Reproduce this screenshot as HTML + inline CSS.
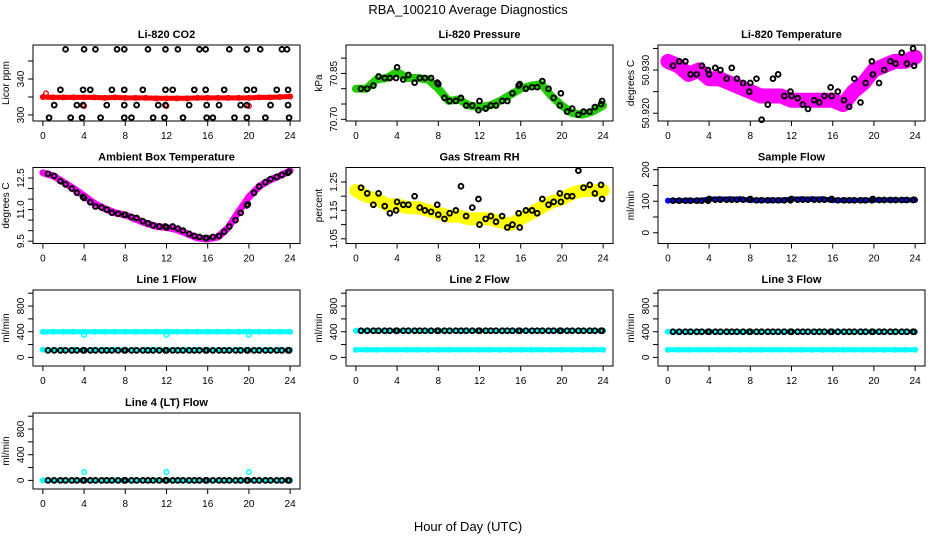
<!DOCTYPE html>
<html><head><meta charset="utf-8">
<style>
html,body{margin:0;padding:0;background:#fff;}
svg{display:block;font-family:"Liberation Sans",Arial,sans-serif;}
</style></head>
<body>
<svg id="chart" width="936" height="540" viewBox="0 0 936 540">
<rect x="0" y="0" width="936" height="540" fill="#fff"/>
<text x="468" y="14" text-anchor="middle" font-size="13">RBA_100210  Average Diagnostics</text>
<text x="468" y="531" text-anchor="middle" font-size="13">Hour of Day (UTC)</text>
</svg>
<script>
// shared hour positions
const hourly = [0,1,2,3,4,5,6,7,8,9,10,11,12,13,14,15,16,17,18,19,20,21,22,23,24];
const blackHours = [0.5,1.1,1.7,2.2,2.8,3.3,3.9,4.0,4.6,5.1,5.7,6.2,6.7,7.3,7.9,8.0,8.6,9.1,9.7,10.2,10.7,11.3,11.9,12.0,12.6,13.1,13.6,14.2,14.7,15.2,15.8,15.9,16.5,17.1,17.6,18.1,18.7,19.2,19.8,19.9,20.5,21.0,21.6,22.1,22.7,23.2,23.8,23.9];
const xTicks = [0,4,8,12,16,20,24];

// CO2
const co2Red = [320,319.5,319.5,319.5,319.5,319.5,319,319.5,319,319,319,318.5,318.5,318.5,318.5,319,319,319,319,319,319,319.5,319.5,320,320.5];
const co2RedOutX = [0.3,4,12,20];
const co2RedOutY = [324,310,310,310];
const co2BlackX = [2.2,4,5.1,7.2,7.9,10.2,11.9,13.1,15.2,15.8,18.1,19.8,21.1,23.2,23.7,
 1.7,3.9,4.6,6.7,7.9,9.7,11.9,12.6,14.7,15.8,17.6,19.8,20.5,22.7,23.8,
 1.1,3.3,3.9,6.2,7.9,9.1,11.2,11.9,14.2,15.9,17.1,19.2,19.8,22.1,23.8,
 0.6,2.7,3.8,5.6,7.9,8.6,10.7,11.8,13.6,15.9,16.5,18.6,19.8,21.6,23.9];
const co2BlackY = [373,373,373,373,373,373,373,373,373,373,373,373,373,373,373,
 328,328,328,328,328,328,328,328,328,328,328,328,328,328,328,
 311,311,311,311,311,311,311,311,311,311,311,311,311,311,311,
 297,297,297,297,297,297,297,297,297,297,297,297,297,297,297];

// Pressure
const presGreen = [70.80,70.80,70.83,70.835,70.855,70.835,70.835,70.83,70.80,70.76,70.765,70.745,70.74,70.745,70.76,70.78,70.80,70.81,70.815,70.775,70.745,70.72,70.715,70.725,70.745];
const presBlack = [70.80,70.80,70.81,70.84,70.835,70.835,70.835,70.87,70.83,70.845,70.82,70.835,70.835,70.835,70.82,70.815,70.77,70.76,70.76,70.77,70.745,70.745,70.73,70.76,70.735,70.745,70.745,70.76,70.76,70.785,70.81,70.815,70.80,70.805,70.805,70.825,70.80,70.77,70.745,70.785,70.725,70.735,70.715,70.725,70.725,70.74,70.75,70.76];

// Li-820 temperature
const tempMag = [50.932,50.931,50.929,50.930,50.928,50.928,50.927,50.926,50.925,50.924,50.924,50.924,50.923,50.923,50.923,50.923,50.923,50.922,50.925,50.927,50.930,50.931,50.932,50.932,50.933];
const tempBlack = [50.931,50.932,50.932,50.929,50.929,50.931,50.930,50.929,50.9305,50.930,50.928,50.9305,50.928,50.927,50.925,50.927,50.928,50.9185,50.922,50.928,50.929,50.924,50.925,50.924,50.9235,50.922,50.921,50.923,50.9225,50.924,50.926,50.924,50.925,50.923,50.9215,50.928,50.9225,50.927,50.932,50.929,50.927,50.930,50.932,50.9315,50.934,50.9315,50.935,50.931];

// Ambient box temperature
const ambMag = [12.75,12.6,12.3,12.0,11.65,11.3,11.05,10.85,10.75,10.55,10.35,10.2,10.15,10.05,9.85,9.65,9.6,9.7,10.15,10.9,11.6,12.1,12.4,12.6,12.85];
const ambBlack = [12.7,12.6,12.35,12.2,12.0,11.8,11.6,11.55,11.35,11.15,11.1,11.0,10.85,10.8,10.75,10.75,10.65,10.6,10.45,10.35,10.25,10.2,10.2,10.15,10.2,10.1,10.0,9.85,9.75,9.7,9.65,9.65,9.7,9.75,9.95,10.2,10.5,10.85,11.2,11.25,11.8,12.1,12.3,12.45,12.55,12.65,12.75,12.8];

// Gas stream RH
const rhYellow = [1.22,1.20,1.19,1.17,1.17,1.16,1.16,1.15,1.14,1.13,1.13,1.12,1.12,1.12,1.11,1.10,1.12,1.14,1.16,1.18,1.19,1.21,1.22,1.22,1.22];
const rhBlack = [1.23,1.21,1.17,1.21,1.165,1.14,1.15,1.18,1.17,1.17,1.20,1.16,1.15,1.145,1.17,1.135,1.12,1.14,1.15,1.235,1.13,1.16,1.19,1.10,1.12,1.13,1.11,1.13,1.09,1.10,1.14,1.09,1.15,1.15,1.14,1.19,1.17,1.18,1.21,1.18,1.20,1.20,1.29,1.23,1.24,1.21,1.24,1.19];

// Sample flow
const sfBlue = [102,102,102,102,107,107,107,107,103,103,103,103,107,107,107,107,103,103,103,103,104,104,104,104,104];
const sfBlack = [102,102,102,102,102,102,102,107,105,105,105,105,105,105,105,107,103,103,103,103,103,103,103,107,105,105,105,105,105,105,105,107,103,103,103,103,103,103,103,107,104,104,104,104,104,104,104,105];

// Line flows
const l1CyanHi = [400,400,400,400,400,400,400,400,400,400,400,400,400,400,400,400,400,400,400,400,400,400,400,400,400];
const l1CyanLo = [120,120,120,120,120,120,120,120,120,120,120,120,120,120,120,120,120,120,120,120,120,120,120,120,120];
const l1OutX = [4,12,20];
const l1OutY = [350,350,350];
const l1Black = [110,110,110,110,110,110,110,110,110,110,110,110,110,110,110,110,110,110,110,110,110,110,110,110,110,110,110,110,110,110,110,110,110,110,110,110,110,110,110,110,110,110,110,110,110,110,110,110];

const l2CyanHi = [415,415,415,415,415,415,415,415,415,415,415,415,415,415,415,415,415,415,415,415,415,415,415,415,415];
const l2CyanLo = [120,120,120,120,120,120,120,120,120,120,120,120,120,120,120,120,120,120,120,120,120,120,120,120,120];
const l2Black = [415,415,415,415,415,415,415,415,415,415,415,415,415,415,415,415,415,415,415,415,415,415,415,415,415,415,415,415,415,415,415,415,415,415,415,415,415,415,415,415,415,415,415,415,415,415,415,415];

const l3CyanHi = [400,400,400,400,400,400,400,400,400,400,400,400,400,400,400,400,400,400,400,400,400,400,400,400,400];
const l3CyanLo = [120,120,120,120,120,120,120,120,120,120,120,120,120,120,120,120,120,120,120,120,120,120,120,120,120];
const l3Black = [400,400,400,400,400,400,400,400,400,400,400,400,400,400,400,400,400,400,400,400,400,400,400,400,400,400,400,400,400,400,400,400,400,400,400,400,400,400,400,400,400,400,400,400,400,400,400,400];

const l4Cyan = [0,0,0,0,0,0,0,0,0,0,0,0,0,0,0,0,0,0,0,0,0,0,0,0,0];
const l4OutX = [4,12,20];
const l4OutY = [130,130,130];
const l4Black = [0,0,0,0,0,0,0,0,0,0,0,0,0,0,0,0,0,0,0,0,0,0,0,0,0,0,0,0,0,0,0,0,0,0,0,0,0,0,0,0,0,0,0,0,0,0,0,0];

const NS = "http://www.w3.org/2000/svg";
const svg = document.getElementById('chart');
function mk(tag, attrs, parent){
  const e = document.createElementNS(NS, tag);
  for (const k in attrs) e.setAttribute(k, attrs[k]);
  (parent||svg).appendChild(e);
  return e;
}
const W = 267, H = 76;
const colsX = [33, 346, 658];
const rowsY = [45, 167.5, 290, 413];

function panel(cfg){
  const left = colsX[cfg.col], top = rowsY[cfg.row];
  const g = mk('g', {});
  
  
  const xs = h => left + (h + 0.96) / 25.92 * W;
  const ys = v => top + H - (v - cfg.ymin) / (cfg.ymax - cfg.ymin) * H;
  const t = mk('text', {x: left + W/2, y: top - 7, 'text-anchor':'middle', 'font-size':'11', 'font-weight':'bold'}, g);
  t.textContent = cfg.title;
  
  
  const sg = mk('g', {}, g);
  
  
  (cfg.bands||[]).forEach(b => {
    const pts = b.x.map((h,i) => xs(h).toFixed(1) + ',' + ys(b.y[i]).toFixed(1)).join(' ');
    const pl = mk('polyline', {points: pts, fill:'none', stroke: b.color, 'stroke-width': b.w, 'stroke-linejoin':'round', 'stroke-linecap':'round'}, sg);
    
    
    b.x.forEach((h,i) => {
      const c = mk('circle', {cx: xs(h), cy: ys(b.y[i]), r: 2.3, fill:'none', stroke: b.color, 'stroke-width': 1.4}, sg);
      
      
    });
  });
  (cfg.points||[]).forEach(p => {
    p.x.forEach((h,i) => {
      const c = mk('circle', {cx: xs(h), cy: ys(p.y[i]), r: 2.4, fill:'none', stroke: p.color, 'stroke-width': 1.9}, sg);
      
      
    });
  });
  const box = mk('rect', {x: left, y: top, width: W, height: H, fill:'none', stroke:'#000', 'stroke-width':1}, g);
  
  
  const xa = mk('g', {}, g);
  
  
  mk('line', {x1: xs(0), x2: xs(24), y1: top+H, y2: top+H, stroke:'#000'}, xa);
  xTicks.forEach(v => {
    mk('line', {x1: xs(v), x2: xs(v), y1: top+H, y2: top+H+5, stroke:'#000'}, xa);
    const tl = mk('text', {x: xs(v), y: top+H+18, 'text-anchor':'middle', 'font-size':'10'}, xa);
    tl.textContent = v;
    
    
  });
  const ya = mk('g', {}, g);
  
  
  mk('line', {x1: left, x2: left, y1: ys(cfg.ticks[0]), y2: ys(cfg.ticks[cfg.ticks.length-1]), stroke:'#000'}, ya);
  cfg.ticks.forEach(v => {
    mk('line', {x1: left-5, x2: left, y1: ys(v), y2: ys(v), stroke:'#000'}, ya);
  });
  cfg.labels.forEach(v => {
    const yy = ys(v), xx = left - 9;
    const tl = mk('text', {x: xx, y: yy, 'text-anchor':'middle', 'font-size':'10', transform: 'rotate(-90 ' + xx + ' ' + yy + ')'}, ya);
    tl.textContent = cfg.fmt ? cfg.fmt(v) : v;
    
    
  });
  const yx = left - 24, yy = top + H/2;
  const yl = mk('text', {x: yx, y: yy, 'text-anchor':'middle', 'font-size':'10', transform: 'rotate(-90 ' + yx + ' ' + yy + ')'}, g);
  yl.textContent = cfg.ylab;
  
  
}

panel({name:'co2-panel', col:0, row:0, title:'Li-820 CO2', ylab:'Licor ppm', ymin:293.3, ymax:377.8,
  ticks:[300,320,340,360], labels:[300,340],
  bands:[{label:'co2-licor', color:'#ff0000', w:5, x:hourly, y:co2Red},
         {label:'co2-outlier', color:'#ff0000', w:0, x:co2RedOutX, y:co2RedOutY}],
  points:[{label:'co2-average', color:'#000', x:co2BlackX, y:co2BlackY}]});
panel({name:'pressure-panel', col:1, row:0, title:'Li-820 Pressure', ylab:'kPa', ymin:70.6944, ymax:70.943,
  ticks:[70.70,70.75,70.80,70.85,70.90], labels:[70.70,70.85], fmt: v => v.toFixed(2),
  bands:[{label:'pressure', color:'#22cc00', w:8, x:hourly, y:presGreen}],
  points:[{label:'pressure-average', color:'#000', x:blackHours, y:presBlack}]});
panel({name:'li820-temperature-panel', col:2, row:0, title:'Li-820 Temperature', ylab:'degrees C', ymin:50.9182, ymax:50.9358,
  ticks:[50.920,50.925,50.930,50.935], labels:[50.920,50.930], fmt: v => v.toFixed(3),
  bands:[{label:'li820-temp', color:'#ff00ff', w:15, x:hourly, y:tempMag}],
  points:[{label:'li820-temp-average', color:'#000', x:blackHours, y:tempBlack}]});
panel({name:'ambient-temperature-panel', col:0, row:1, title:'Ambient Box Temperature', ylab:'degrees C', ymin:9.39, ymax:13.0,
  ticks:[9.5,10,10.5,11,11.5,12,12.5], labels:[9.5,11.0,12.5], fmt: v => v.toFixed(1),
  bands:[{label:'ambient-temp', color:'#ff00ff', w:7, x:hourly, y:ambMag}],
  points:[{label:'ambient-temp-average', color:'#000', x:blackHours, y:ambBlack}]});
panel({name:'rh-panel', col:1, row:1, title:'Gas Stream RH', ylab:'percent', ymin:1.0335, ymax:1.301,
  ticks:[1.05,1.10,1.15,1.20,1.25], labels:[1.05,1.15,1.25], fmt: v => v.toFixed(2),
  bands:[{label:'rh', color:'#ffff00', w:13, x:hourly, y:rhYellow}],
  points:[{label:'rh-average', color:'#000', x:blackHours, y:rhBlack}]});
panel({name:'sample-flow-panel', col:2, row:1, title:'Sample Flow', ylab:'ml/min', ymin:-34, ymax:207,
  ticks:[0,50,100,150,200], labels:[0,100,200],
  bands:[{label:'sample-flow', color:'#0000ff', w:5, x:hourly, y:sfBlue}],
  points:[{label:'sample-flow-average', color:'#000', x:blackHours, y:sfBlack}]});
panel({name:'line1-flow-panel', col:0, row:2, title:'Line 1 Flow', ylab:'ml/min', ymin:-134, ymax:1050,
  ticks:[0,200,400,600,800,1000], labels:[0,400,800],
  bands:[{label:'line1-high', color:'#00ffff', w:5, x:hourly, y:l1CyanHi},
         {label:'line1-low', color:'#00ffff', w:4, x:hourly, y:l1CyanLo},
         {label:'line1-outlier', color:'#00ffff', w:0, x:l1OutX, y:l1OutY}],
  points:[{label:'line1-average', color:'#000', x:blackHours, y:l1Black}]});
panel({name:'line2-flow-panel', col:1, row:2, title:'Line 2 Flow', ylab:'ml/min', ymin:-134, ymax:1050,
  ticks:[0,200,400,600,800,1000], labels:[0,400,800],
  bands:[{label:'line2-high', color:'#00ffff', w:5, x:hourly, y:l2CyanHi},
         {label:'line2-low', color:'#00ffff', w:5, x:hourly, y:l2CyanLo}],
  points:[{label:'line2-average', color:'#000', x:blackHours, y:l2Black}]});
panel({name:'line3-flow-panel', col:2, row:2, title:'Line 3 Flow', ylab:'ml/min', ymin:-134, ymax:1050,
  ticks:[0,200,400,600,800,1000], labels:[0,400,800],
  bands:[{label:'line3-high', color:'#00ffff', w:5, x:hourly, y:l3CyanHi},
         {label:'line3-low', color:'#00ffff', w:5, x:hourly, y:l3CyanLo}],
  points:[{label:'line3-average', color:'#000', x:blackHours, y:l3Black}]});
panel({name:'line4-flow-panel', col:0, row:3, title:'Line 4 (LT) Flow', ylab:'ml/min', ymin:-134, ymax:1050,
  ticks:[0,200,400,600,800,1000], labels:[0,400,800],
  bands:[{label:'line4', color:'#00ffff', w:5, x:hourly, y:l4Cyan},
         {label:'line4-outlier', color:'#00ffff', w:0, x:l4OutX, y:l4OutY}],
  points:[{label:'line4-average', color:'#000', x:blackHours, y:l4Black}]});
</script>
</body></html>
